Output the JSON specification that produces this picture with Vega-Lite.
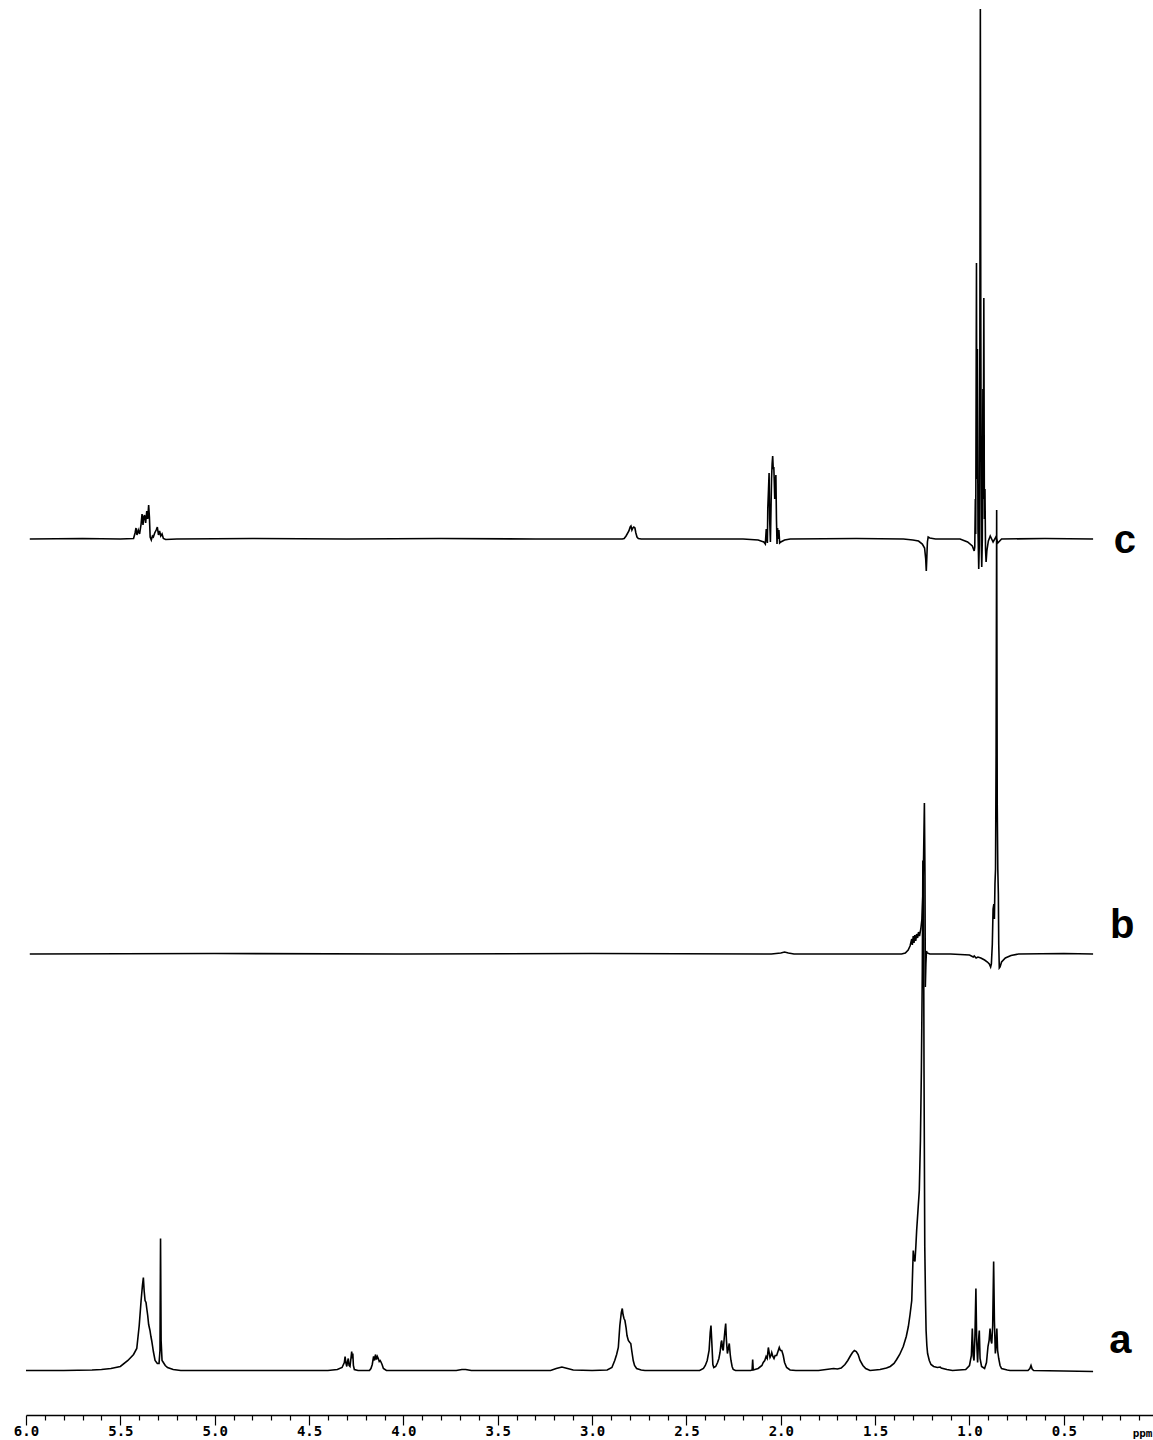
{
  "$schema": "https://vega.github.io/schema/vega-lite/v6.json",
  "autosize": "none",
  "width": 1127,
  "height": 1415,
  "padding": {"left": 26, "right": 0, "top": 0, "bottom": 25},
  "background": "white",
  "config": {"view": {"stroke": null}},
  "datasets": {
    "c": [
      {"ppm": 5.98, "v": 0}, {"ppm": 5.7, "v": 0.5}, {"ppm": 5.5, "v": 0}, {"ppm": 5.43, "v": 0.5},
      {"ppm": 5.422, "v": 6}, {"ppm": 5.417, "v": 11}, {"ppm": 5.412, "v": 4}, {"ppm": 5.405, "v": 9},
      {"ppm": 5.398, "v": 5}, {"ppm": 5.39, "v": 15}, {"ppm": 5.385, "v": 25}, {"ppm": 5.38, "v": 14},
      {"ppm": 5.376, "v": 22}, {"ppm": 5.372, "v": 24}, {"ppm": 5.366, "v": 16}, {"ppm": 5.36, "v": 28},
      {"ppm": 5.355, "v": 20}, {"ppm": 5.35, "v": 34}, {"ppm": 5.346, "v": 22}, {"ppm": 5.342, "v": 2},
      {"ppm": 5.336, "v": -1}, {"ppm": 5.33, "v": 3}, {"ppm": 5.325, "v": 2}, {"ppm": 5.318, "v": 6},
      {"ppm": 5.31, "v": 9}, {"ppm": 5.304, "v": 12}, {"ppm": 5.298, "v": 4}, {"ppm": 5.292, "v": 8},
      {"ppm": 5.286, "v": 3}, {"ppm": 5.279, "v": 5}, {"ppm": 5.272, "v": 0.5}, {"ppm": 5.26, "v": -0.5},
      {"ppm": 5.2, "v": 0}, {"ppm": 4.8, "v": 0.5}, {"ppm": 4.3, "v": 0}, {"ppm": 3.8, "v": 0.5},
      {"ppm": 3.3, "v": 0}, {"ppm": 2.84, "v": 0}, {"ppm": 2.83, "v": 0.5}, {"ppm": 2.82, "v": 3},
      {"ppm": 2.805, "v": 8}, {"ppm": 2.798, "v": 12}, {"ppm": 2.794, "v": 13}, {"ppm": 2.789, "v": 9},
      {"ppm": 2.784, "v": 11}, {"ppm": 2.779, "v": 12}, {"ppm": 2.773, "v": 11}, {"ppm": 2.768, "v": 6},
      {"ppm": 2.762, "v": 2}, {"ppm": 2.755, "v": 0.5}, {"ppm": 2.74, "v": 0}, {"ppm": 2.5, "v": 0},
      {"ppm": 2.2, "v": 0}, {"ppm": 2.12, "v": -1}, {"ppm": 2.09, "v": -3}, {"ppm": 2.082, "v": -5},
      {"ppm": 2.079, "v": 4}, {"ppm": 2.077, "v": 10}, {"ppm": 2.075, "v": 2}, {"ppm": 2.071, "v": -4},
      {"ppm": 2.069, "v": 30}, {"ppm": 2.065, "v": 50}, {"ppm": 2.062, "v": 66}, {"ppm": 2.059, "v": 20},
      {"ppm": 2.055, "v": -3}, {"ppm": 2.049, "v": 60}, {"ppm": 2.046, "v": 75}, {"ppm": 2.043, "v": 83},
      {"ppm": 2.04, "v": 70}, {"ppm": 2.037, "v": 72}, {"ppm": 2.035, "v": 60}, {"ppm": 2.032, "v": 40},
      {"ppm": 2.029, "v": 55}, {"ppm": 2.026, "v": 64}, {"ppm": 2.023, "v": 20}, {"ppm": 2.02, "v": -5},
      {"ppm": 2.017, "v": 11}, {"ppm": 2.014, "v": 0}, {"ppm": 2.01, "v": 9}, {"ppm": 2.006, "v": -4},
      {"ppm": 2.0, "v": -3}, {"ppm": 1.98, "v": -1}, {"ppm": 1.95, "v": 0}, {"ppm": 1.6, "v": 0.5},
      {"ppm": 1.35, "v": 0}, {"ppm": 1.3, "v": -1}, {"ppm": 1.27, "v": -2}, {"ppm": 1.25, "v": -5},
      {"ppm": 1.238, "v": -9}, {"ppm": 1.232, "v": -20}, {"ppm": 1.229, "v": -32}, {"ppm": 1.226, "v": -18},
      {"ppm": 1.223, "v": -3}, {"ppm": 1.219, "v": 2}, {"ppm": 1.21, "v": 1}, {"ppm": 1.18, "v": 0},
      {"ppm": 1.05, "v": 0}, {"ppm": 1.01, "v": -3}, {"ppm": 0.985, "v": -7}, {"ppm": 0.975, "v": -12},
      {"ppm": 0.972, "v": -8}, {"ppm": 0.969, "v": 40}, {"ppm": 0.967, "v": 5}, {"ppm": 0.963, "v": 276},
      {"ppm": 0.961, "v": 60}, {"ppm": 0.958, "v": 190}, {"ppm": 0.955, "v": 10}, {"ppm": 0.951, "v": -30},
      {"ppm": 0.948, "v": -5}, {"ppm": 0.945, "v": 200}, {"ppm": 0.9425, "v": 530}, {"ppm": 0.94, "v": 210},
      {"ppm": 0.937, "v": -10}, {"ppm": 0.935, "v": -28}, {"ppm": 0.932, "v": 0}, {"ppm": 0.929, "v": 150},
      {"ppm": 0.927, "v": 40}, {"ppm": 0.924, "v": 241}, {"ppm": 0.921, "v": 20}, {"ppm": 0.918, "v": 50},
      {"ppm": 0.915, "v": -10}, {"ppm": 0.912, "v": -23}, {"ppm": 0.908, "v": -12}, {"ppm": 0.9, "v": -2},
      {"ppm": 0.89, "v": 3}, {"ppm": 0.875, "v": -3}, {"ppm": 0.86, "v": 2}, {"ppm": 0.85, "v": -4},
      {"ppm": 0.83, "v": 0}, {"ppm": 0.6, "v": 0.5}, {"ppm": 0.345, "v": 0}
    ],
    "b": [
      {"ppm": 5.98, "v": 0}, {"ppm": 5.0, "v": 0.5}, {"ppm": 4.0, "v": 0}, {"ppm": 3.0, "v": 0.5},
      {"ppm": 2.05, "v": 0}, {"ppm": 2.0, "v": 1}, {"ppm": 1.98, "v": 2}, {"ppm": 1.96, "v": 1},
      {"ppm": 1.93, "v": 0}, {"ppm": 1.36, "v": 0}, {"ppm": 1.34, "v": 1}, {"ppm": 1.325, "v": 4},
      {"ppm": 1.315, "v": 8}, {"ppm": 1.306, "v": 15}, {"ppm": 1.303, "v": 9}, {"ppm": 1.298, "v": 18},
      {"ppm": 1.294, "v": 11}, {"ppm": 1.29, "v": 19}, {"ppm": 1.285, "v": 13}, {"ppm": 1.28, "v": 20},
      {"ppm": 1.275, "v": 16}, {"ppm": 1.27, "v": 22}, {"ppm": 1.265, "v": 18}, {"ppm": 1.258, "v": 25},
      {"ppm": 1.252, "v": 35}, {"ppm": 1.247, "v": 60}, {"ppm": 1.243, "v": 100}, {"ppm": 1.239, "v": 151},
      {"ppm": 1.236, "v": 80}, {"ppm": 1.234, "v": -33}, {"ppm": 1.231, "v": -10}, {"ppm": 1.228, "v": 3},
      {"ppm": 1.224, "v": 1}, {"ppm": 1.21, "v": 0}, {"ppm": 1.1, "v": 0}, {"ppm": 1.0, "v": -1},
      {"ppm": 0.98, "v": -3}, {"ppm": 0.975, "v": -2}, {"ppm": 0.965, "v": -4}, {"ppm": 0.955, "v": -3},
      {"ppm": 0.94, "v": -4}, {"ppm": 0.92, "v": -6}, {"ppm": 0.905, "v": -8}, {"ppm": 0.895, "v": -10},
      {"ppm": 0.888, "v": -13}, {"ppm": 0.884, "v": -10}, {"ppm": 0.879, "v": 10}, {"ppm": 0.875, "v": 45},
      {"ppm": 0.871, "v": 50}, {"ppm": 0.868, "v": 35}, {"ppm": 0.865, "v": 70}, {"ppm": 0.862, "v": 85},
      {"ppm": 0.859, "v": 200}, {"ppm": 0.856, "v": 444}, {"ppm": 0.853, "v": 150}, {"ppm": 0.85, "v": 85},
      {"ppm": 0.847, "v": 60}, {"ppm": 0.845, "v": 10}, {"ppm": 0.842, "v": -14}, {"ppm": 0.838, "v": -13},
      {"ppm": 0.83, "v": -8}, {"ppm": 0.81, "v": -4}, {"ppm": 0.78, "v": -1.5}, {"ppm": 0.74, "v": 0},
      {"ppm": 0.5, "v": 0.5}, {"ppm": 0.345, "v": 0}
    ],
    "a": [
      {"ppm": 6.0, "v": 0}, {"ppm": 5.8, "v": 0}, {"ppm": 5.65, "v": 0.5}, {"ppm": 5.6, "v": 1},
      {"ppm": 5.55, "v": 2}, {"ppm": 5.5, "v": 4}, {"ppm": 5.46, "v": 10}, {"ppm": 5.43, "v": 16},
      {"ppm": 5.413, "v": 22}, {"ppm": 5.4, "v": 45}, {"ppm": 5.39, "v": 70}, {"ppm": 5.383, "v": 85},
      {"ppm": 5.378, "v": 93}, {"ppm": 5.374, "v": 80}, {"ppm": 5.369, "v": 70}, {"ppm": 5.364, "v": 68},
      {"ppm": 5.36, "v": 62}, {"ppm": 5.355, "v": 55}, {"ppm": 5.35, "v": 46}, {"ppm": 5.343, "v": 40},
      {"ppm": 5.338, "v": 34}, {"ppm": 5.334, "v": 30}, {"ppm": 5.329, "v": 24}, {"ppm": 5.325, "v": 19},
      {"ppm": 5.316, "v": 10}, {"ppm": 5.304, "v": 7}, {"ppm": 5.295, "v": 7}, {"ppm": 5.29, "v": 20},
      {"ppm": 5.287, "v": 132}, {"ppm": 5.284, "v": 30}, {"ppm": 5.279, "v": 10}, {"ppm": 5.272, "v": 8},
      {"ppm": 5.262, "v": 5}, {"ppm": 5.25, "v": 3}, {"ppm": 5.22, "v": 1}, {"ppm": 5.18, "v": 0},
      {"ppm": 4.8, "v": 0}, {"ppm": 4.4, "v": 0}, {"ppm": 4.35, "v": 1}, {"ppm": 4.325, "v": 3},
      {"ppm": 4.313, "v": 8}, {"ppm": 4.309, "v": 14}, {"ppm": 4.305, "v": 8}, {"ppm": 4.3, "v": 4},
      {"ppm": 4.296, "v": 9}, {"ppm": 4.292, "v": 12}, {"ppm": 4.288, "v": 5}, {"ppm": 4.283, "v": 4},
      {"ppm": 4.278, "v": 12}, {"ppm": 4.274, "v": 19}, {"ppm": 4.271, "v": 12}, {"ppm": 4.268, "v": 17},
      {"ppm": 4.265, "v": 5}, {"ppm": 4.26, "v": 1}, {"ppm": 4.24, "v": 0}, {"ppm": 4.18, "v": 0},
      {"ppm": 4.172, "v": 2}, {"ppm": 4.165, "v": 6}, {"ppm": 4.158, "v": 14}, {"ppm": 4.153, "v": 10},
      {"ppm": 4.148, "v": 16}, {"ppm": 4.143, "v": 11}, {"ppm": 4.138, "v": 14}, {"ppm": 4.133, "v": 12},
      {"ppm": 4.128, "v": 9}, {"ppm": 4.123, "v": 10}, {"ppm": 4.12, "v": 9}, {"ppm": 4.113, "v": 6},
      {"ppm": 4.106, "v": 2}, {"ppm": 4.09, "v": 0}, {"ppm": 3.72, "v": 0}, {"ppm": 3.69, "v": 1},
      {"ppm": 3.67, "v": 1}, {"ppm": 3.64, "v": 0}, {"ppm": 3.22, "v": 0}, {"ppm": 3.19, "v": 2},
      {"ppm": 3.16, "v": 3.5}, {"ppm": 3.13, "v": 2}, {"ppm": 3.1, "v": 0.5}, {"ppm": 3.0, "v": 0},
      {"ppm": 2.92, "v": 0.5}, {"ppm": 2.895, "v": 3}, {"ppm": 2.88, "v": 10}, {"ppm": 2.87, "v": 16},
      {"ppm": 2.861, "v": 23}, {"ppm": 2.853, "v": 45}, {"ppm": 2.845, "v": 58}, {"ppm": 2.84, "v": 62},
      {"ppm": 2.836, "v": 56}, {"ppm": 2.831, "v": 52}, {"ppm": 2.826, "v": 50}, {"ppm": 2.82, "v": 43},
      {"ppm": 2.815, "v": 35}, {"ppm": 2.808, "v": 30}, {"ppm": 2.8, "v": 28}, {"ppm": 2.795, "v": 27},
      {"ppm": 2.79, "v": 20}, {"ppm": 2.782, "v": 10}, {"ppm": 2.775, "v": 5}, {"ppm": 2.764, "v": 2},
      {"ppm": 2.74, "v": 0.5}, {"ppm": 2.72, "v": 0}, {"ppm": 2.43, "v": 0}, {"ppm": 2.41, "v": 2},
      {"ppm": 2.4, "v": 5}, {"ppm": 2.39, "v": 10}, {"ppm": 2.38, "v": 20}, {"ppm": 2.374, "v": 38},
      {"ppm": 2.37, "v": 45}, {"ppm": 2.366, "v": 30}, {"ppm": 2.36, "v": 6}, {"ppm": 2.355, "v": 3},
      {"ppm": 2.345, "v": 4}, {"ppm": 2.335, "v": 8}, {"ppm": 2.328, "v": 12}, {"ppm": 2.322, "v": 18},
      {"ppm": 2.316, "v": 28}, {"ppm": 2.313, "v": 30}, {"ppm": 2.309, "v": 22}, {"ppm": 2.305, "v": 20},
      {"ppm": 2.3, "v": 32}, {"ppm": 2.296, "v": 40}, {"ppm": 2.292, "v": 47}, {"ppm": 2.288, "v": 30},
      {"ppm": 2.283, "v": 17}, {"ppm": 2.278, "v": 22}, {"ppm": 2.273, "v": 27}, {"ppm": 2.268, "v": 16},
      {"ppm": 2.264, "v": 10}, {"ppm": 2.258, "v": 4}, {"ppm": 2.252, "v": 1}, {"ppm": 2.24, "v": 0},
      {"ppm": 2.16, "v": 0}, {"ppm": 2.152, "v": 0.5}, {"ppm": 2.149, "v": 11}, {"ppm": 2.146, "v": 0.5},
      {"ppm": 2.12, "v": 2}, {"ppm": 2.1, "v": 5}, {"ppm": 2.093, "v": 8}, {"ppm": 2.085, "v": 10},
      {"ppm": 2.078, "v": 14}, {"ppm": 2.072, "v": 12}, {"ppm": 2.066, "v": 23}, {"ppm": 2.06, "v": 16},
      {"ppm": 2.057, "v": 13}, {"ppm": 2.052, "v": 15}, {"ppm": 2.048, "v": 18}, {"ppm": 2.042, "v": 14},
      {"ppm": 2.036, "v": 12}, {"ppm": 2.03, "v": 15}, {"ppm": 2.022, "v": 15}, {"ppm": 2.015, "v": 19},
      {"ppm": 2.008, "v": 23}, {"ppm": 2.002, "v": 20}, {"ppm": 1.995, "v": 20}, {"ppm": 1.99, "v": 17},
      {"ppm": 1.987, "v": 15}, {"ppm": 1.98, "v": 8}, {"ppm": 1.969, "v": 3}, {"ppm": 1.951, "v": 0.5},
      {"ppm": 1.92, "v": 0}, {"ppm": 1.8, "v": 0}, {"ppm": 1.76, "v": 1}, {"ppm": 1.72, "v": 2},
      {"ppm": 1.7, "v": 1.5}, {"ppm": 1.68, "v": 2.5}, {"ppm": 1.66, "v": 6}, {"ppm": 1.645, "v": 10},
      {"ppm": 1.63, "v": 15}, {"ppm": 1.62, "v": 18}, {"ppm": 1.61, "v": 20}, {"ppm": 1.6, "v": 19},
      {"ppm": 1.59, "v": 16}, {"ppm": 1.58, "v": 10}, {"ppm": 1.565, "v": 5}, {"ppm": 1.55, "v": 2},
      {"ppm": 1.527, "v": 0}, {"ppm": 1.5, "v": 0.5}, {"ppm": 1.474, "v": 1}, {"ppm": 1.44, "v": 2.5},
      {"ppm": 1.42, "v": 4}, {"ppm": 1.4, "v": 7}, {"ppm": 1.386, "v": 11}, {"ppm": 1.37, "v": 16},
      {"ppm": 1.351, "v": 24}, {"ppm": 1.335, "v": 34}, {"ppm": 1.324, "v": 44}, {"ppm": 1.315, "v": 56},
      {"ppm": 1.306, "v": 70}, {"ppm": 1.302, "v": 95}, {"ppm": 1.298, "v": 120}, {"ppm": 1.294, "v": 112},
      {"ppm": 1.289, "v": 109}, {"ppm": 1.284, "v": 125}, {"ppm": 1.28, "v": 140}, {"ppm": 1.273, "v": 160},
      {"ppm": 1.266, "v": 180}, {"ppm": 1.26, "v": 230}, {"ppm": 1.255, "v": 300}, {"ppm": 1.25, "v": 400},
      {"ppm": 1.247, "v": 510}, {"ppm": 1.244, "v": 505}, {"ppm": 1.241, "v": 300}, {"ppm": 1.237, "v": 124},
      {"ppm": 1.233, "v": 70}, {"ppm": 1.23, "v": 40}, {"ppm": 1.226, "v": 25}, {"ppm": 1.222, "v": 17},
      {"ppm": 1.213, "v": 10}, {"ppm": 1.204, "v": 6}, {"ppm": 1.19, "v": 4}, {"ppm": 1.17, "v": 3},
      {"ppm": 1.155, "v": 3.5}, {"ppm": 1.15, "v": 2.5}, {"ppm": 1.12, "v": 1}, {"ppm": 1.09, "v": 0},
      {"ppm": 1.02, "v": 1}, {"ppm": 1.0, "v": 5}, {"ppm": 0.99, "v": 15}, {"ppm": 0.985, "v": 42},
      {"ppm": 0.98, "v": 14}, {"ppm": 0.976, "v": 10}, {"ppm": 0.971, "v": 35}, {"ppm": 0.966, "v": 82},
      {"ppm": 0.962, "v": 30}, {"ppm": 0.957, "v": 8}, {"ppm": 0.952, "v": 30}, {"ppm": 0.948, "v": 40},
      {"ppm": 0.944, "v": 12}, {"ppm": 0.936, "v": 4}, {"ppm": 0.92, "v": 2}, {"ppm": 0.91, "v": 8},
      {"ppm": 0.902, "v": 24}, {"ppm": 0.896, "v": 30}, {"ppm": 0.891, "v": 42}, {"ppm": 0.886, "v": 30},
      {"ppm": 0.882, "v": 27}, {"ppm": 0.877, "v": 45}, {"ppm": 0.872, "v": 109}, {"ppm": 0.868, "v": 50},
      {"ppm": 0.863, "v": 17}, {"ppm": 0.859, "v": 25}, {"ppm": 0.855, "v": 42}, {"ppm": 0.851, "v": 20},
      {"ppm": 0.845, "v": 12}, {"ppm": 0.838, "v": 5}, {"ppm": 0.83, "v": 2}, {"ppm": 0.8, "v": 0.5},
      {"ppm": 0.785, "v": 0}, {"ppm": 0.69, "v": 0}, {"ppm": 0.68, "v": 2}, {"ppm": 0.674, "v": 5},
      {"ppm": 0.668, "v": 1.5}, {"ppm": 0.66, "v": 0}, {"ppm": 0.5, "v": -0.5}, {"ppm": 0.345, "v": -1}
    ],
    "labels": [
      {"trace": "c", "ppm": 0.176, "v": -2},
      {"trace": "b", "ppm": 0.19, "v": 28},
      {"trace": "a", "ppm": 0.2, "v": 30}
    ]
  },
  "encoding": {
    "x": {
      "field": "ppm",
      "type": "quantitative",
      "scale": {"domain": [0.0275, 6.0], "reverse": true, "nice": false, "zero": false},
      "axis": {
        "values": [6.0, 5.9, 5.8, 5.7, 5.6, 5.5, 5.4, 5.3, 5.2, 5.1, 5.0, 4.9, 4.8, 4.7, 4.6, 4.5, 4.4, 4.3, 4.2, 4.1, 4.0, 3.9, 3.8, 3.7, 3.6, 3.5, 3.4, 3.3, 3.2, 3.1, 3.0, 2.9, 2.8, 2.7, 2.6, 2.5, 2.4, 2.3, 2.2, 2.1, 2.0, 1.9, 1.8, 1.7, 1.6, 1.5, 1.4, 1.3, 1.2, 1.1, 1.0, 0.9, 0.8, 0.7, 0.6, 0.5, 0.4, 0.3, 0.2, 0.1],
        "labelExpr": "abs(datum.value*2 - round(datum.value*2)) < 0.01 ? format(datum.value, '.1f') : ''",
        "tickSize": {"condition": {"test": "abs(datum.value*2 - round(datum.value*2)) < 0.01", "value": 10}, "value": 5},
        "tickColor": "black",
        "tickWidth": 1.2,
        "domainColor": "black",
        "domainWidth": 1.5,
        "grid": false,
        "labelFont": "DejaVu Sans Mono",
        "labelFontWeight": "bold",
        "labelFontSize": 14,
        "labelColor": "black",
        "labelPadding": -1,
        "labelOverlap": false,
        "labelFlush": false,
        "title": "ppm",
        "titleFont": "DejaVu Sans Mono",
        "titleFontWeight": "bold",
        "titleFontSize": 11,
        "titleColor": "black",
        "titleAlign": "right",
        "titleAnchor": "end",
        "titleX": 1126,
        "titleY": 21,
        "titleBaseline": "alphabetic"
      }
    }
  },
  "layer": [
    {
      "layer": [
        {
          "data": {"name": "c"},
          "mark": {"type": "line", "color": "black", "strokeWidth": 1.6},
          "encoding": {"y": {"field": "v", "type": "quantitative", "scale": {"domain": [-876, 539], "nice": false, "zero": false}, "axis": null}}
        },
        {
          "data": {"name": "labels"},
          "transform": [{"filter": "datum.trace == 'c'"}],
          "mark": {"type": "text", "font": "Liberation Sans", "fontWeight": "bold", "fontSize": 40, "color": "black", "align": "center", "baseline": "middle"},
          "encoding": {"y": {"field": "v", "type": "quantitative", "scale": {"domain": [-876, 539], "nice": false, "zero": false}, "axis": null}, "text": {"field": "trace"}}
        }
      ]
    },
    {
      "layer": [
        {
          "data": {"name": "b"},
          "mark": {"type": "line", "color": "black", "strokeWidth": 1.6},
          "encoding": {"y": {"field": "v", "type": "quantitative", "scale": {"domain": [-461, 954], "nice": false, "zero": false}, "axis": null}}
        },
        {
          "data": {"name": "labels"},
          "transform": [{"filter": "datum.trace == 'b'"}],
          "mark": {"type": "text", "font": "Liberation Sans", "fontWeight": "bold", "fontSize": 40, "color": "black", "align": "center", "baseline": "middle"},
          "encoding": {"y": {"field": "v", "type": "quantitative", "scale": {"domain": [-461, 954], "nice": false, "zero": false}, "axis": null}, "text": {"field": "trace"}}
        }
      ]
    },
    {
      "layer": [
        {
          "data": {"name": "a"},
          "mark": {"type": "line", "color": "black", "strokeWidth": 1.6},
          "encoding": {"y": {"field": "v", "type": "quantitative", "scale": {"domain": [-44.5, 1370.5], "nice": false, "zero": false}, "axis": null}}
        },
        {
          "data": {"name": "labels"},
          "transform": [{"filter": "datum.trace == 'a'"}],
          "mark": {"type": "text", "font": "Liberation Sans", "fontWeight": "bold", "fontSize": 40, "color": "black", "align": "center", "baseline": "middle"},
          "encoding": {"y": {"field": "v", "type": "quantitative", "scale": {"domain": [-44.5, 1370.5], "nice": false, "zero": false}, "axis": null}, "text": {"field": "trace"}}
        }
      ]
    }
  ],
  "resolve": {"scale": {"y": "independent"}}
}
